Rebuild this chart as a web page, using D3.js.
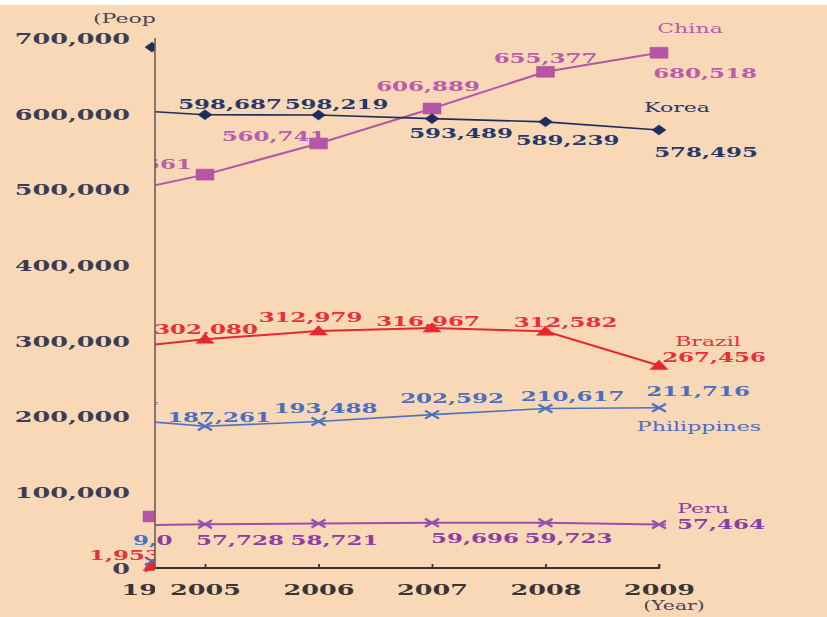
<!DOCTYPE html>
<html>
<head>
<meta charset="utf-8">
<script src="https://cdn.jsdelivr.net/npm/d3@7"></script>
<style>
  html, body { margin: 0; padding: 0; background: #F9D8B7; }
  svg { display: block; }
</style>
</head>
<body>
<script>
// ---- data -------------------------------------------------------------
const years = [2004, 2005, 2006, 2007, 2008, 2009];
const korea = [607419, 598687, 598219, 593489, 589239, 578495];
const china = [487570, 519561, 560741, 606889, 655377, 680518];
const brazil = [286557, 302080, 312979, 316967, 312582, 267456];
const philippines = [199394, 187261, 193488, 202592, 210617, 211716];
const peru = [55750, 57728, 58721, 59696, 59723, 57464];

// earlier reference year shown at the left edge of the axis
const earlyYear = 1990;
const earlyKorea = 687940;
const earlyChina = 68000;
const earlyBrazil = 1953;
const earlyPhilippines = 9092;
const earlyPeru = 480;

const yTicks = [0, 100000, 200000, 300000, 400000, 500000, 600000, 700000];
const seriesNames = ["Korea", "China", "Brazil", "Philippines", "Peru"];

// ---- layout -----------------------------------------------------------
const W = 827, H = 617;
const SX = 1.7;              // horizontal stretch of all lettering
const axisX = 155;           // vertical axis / split between the two panels
const fmt = d3.format(",");

const svg = d3.select("body").append("svg").attr("width", W).attr("height", H);
svg.append("rect").attr("width", W).attr("height", H).attr("fill", "#F9D8B7");
svg.append("rect").attr("width", W).attr("height", 5).attr("fill", "#ffffff");

const defs = svg.append("defs");
defs.append("clipPath").attr("id", "clipRight")
  .append("rect").attr("x", axisX).attr("y", 0).attr("width", W - axisX).attr("height", H);
defs.append("clipPath").attr("id", "clipLeft")
  .append("rect").attr("x", 0).attr("y", 0).attr("width", axisX).attr("height", H);

const y = d3.scaleLinear().domain([0, 700000]).range([568, 38]);
const x = d3.scaleLinear().domain([2005, 2009]).range([205, 659]);
const xEarly = 152;

function stext(g, px, py, txt, o) {
  return g.append("text")
    .attr("transform", `translate(${px},${py}) scale(${SX},1)`)
    .attr("text-anchor", o.anchor || "middle")
    .attr("dy", "0.36em")
    .attr("font-family", "'DejaVu Serif', serif")
    .attr("font-weight", o.weight || "bold")
    .attr("font-size", o.size || 13.5)
    .attr("fill", o.color)
    .text(txt);
}

const colors = {
  Korea:       { line: "#1f2d5c", text: "#27386a", width: 1.6 },
  China:       { line: "#b455a6", text: "#b95cab", width: 2 },
  Brazil:      { line: "#e8262c", text: "#e8303a", width: 2 },
  Philippines: { line: "#4b72c2", text: "#4a6fbf", width: 1.6 },
  Peru:        { line: "#9a4fae", text: "#8e3ca2", width: 2 }
};

const markers = {
  Korea: "M0,-5L7,0L0,5L-7,0Z",
  China: "M-9,-5.5H9V5.5H-9Z",
  Brazil: "M0,-5.5L9,4L-9,4Z",
  Philippines: "M-7,-4L7,4M-7,4L7,-4",
  Peru: "M-7,-4L7,4M-7,4L7,-4M-7,0H7"
};

const seriesData = {
  Korea: korea, China: china, Brazil: brazil, Philippines: philippines, Peru: peru
};

// value-label placement relative to each point (text centre); null = no label
const labelOffsets = {
  Korea:       [null, [25, -11], [18, -11], [29, 14], [22, 18], [47, 22]],
  China:       [null, [-65, -10], [-45, -7], [-4, -22], [0, -14], [46, 20]],
  Brazil:      [null, [1, -10], [-8, -14], [-4, -7], [20, -9], [55, -8]],
  Philippines: [[15, -17], [14, -9], [7, -13], [20, -16], [27, -12], [39, -17]],
  Peru:        [[37, 14], [35, 16], [16, 17], [43, 15], [23, 15], [62, 0]]
};
const nameOffsets = {
  Korea: [18, -23], China: [31, -24], Brazil: [49, -24], Philippines: [40, 19], Peru: [44, -16]
};

// ---- right panel: recent years ----------------------------------------
const right = svg.append("g").attr("clip-path", "url(#clipRight)");

// x axis
const xAxis = right.append("g")
  .attr("transform", `translate(0,${y(0)})`)
  .call(d3.axisBottom(x).tickValues(years).tickFormat(d3.format("d"))
    .tickSizeInner(-4).tickSizeOuter(0));
xAxis.select(".domain").attr("stroke", "#3a312c").attr("stroke-width", 1.8)
  .attr("d", `M${x(2004)},0H${x(2009)}V-4`);
xAxis.selectAll(".tick line").attr("stroke", "#3a312c").attr("stroke-width", 1.8);
xAxis.selectAll(".tick text")
  .attr("y", null).attr("dy", "0.36em")
  .attr("transform", `translate(0,22) scale(${SX},1)`)
  .attr("font-family", "'DejaVu Serif', serif").attr("font-weight", "bold")
  .attr("font-size", 15).attr("fill", "#3a3535");
stext(right, 674, 606, "(Year)", { size: 12, weight: "normal", color: "#4a4550" });

const order = ["Peru", "Philippines", "Brazil", "China", "Korea"];
order.forEach(name => {
  const vals = seriesData[name];
  const c = colors[name];
  const pts = years.map((yr, i) => [x(yr), y(vals[i])]);
  right.append("path").attr("d", d3.line()(pts))
    .attr("fill", "none").attr("stroke", c.line).attr("stroke-width", c.width);
  const isStroke = name === "Philippines" || name === "Peru";
  pts.forEach(p => {
    right.append("path").attr("d", markers[name])
      .attr("transform", `translate(${p[0]},${p[1]})`)
      .attr("fill", isStroke ? "none" : c.line)
      .attr("stroke", c.line).attr("stroke-width", isStroke ? 2.2 : 0.5);
  });
});
order.forEach(name => {
  const vals = seriesData[name];
  const c = colors[name];
  years.forEach((yr, i) => {
    const o = labelOffsets[name][i];
    if (!o) return;
    stext(right, x(yr) + o[0], y(vals[i]) + o[1], fmt(vals[i]), { color: c.text });
  });
  const n = nameOffsets[name];
  stext(right, x(2009) + n[0], y(vals[vals.length - 1]) + n[1], name,
    { size: 13, weight: "normal", color: c.text });
});

// ---- left panel: value axis and earliest year --------------------------
const left = svg.append("g").attr("clip-path", "url(#clipLeft)");

const yAxis = left.append("g")
  .attr("transform", `translate(${axisX},0)`)
  .call(d3.axisLeft(y).tickValues(yTicks).tickFormat(fmt).tickSize(0));
yAxis.select(".domain").remove();
yAxis.selectAll(".tick text")
  .attr("x", null).attr("dy", "0.36em")
  .attr("transform", `translate(-25,0) scale(${SX},1)`)
  .attr("font-family", "'DejaVu Serif', serif").attr("font-weight", "bold")
  .attr("font-size", 15).attr("fill", "#3b3d57");

stext(left, 93, 18, "(People)", { anchor: "start", size: 13, weight: "normal", color: "#4a4550" });
stext(left, 157, 590, String(earlyYear), { size: 15, color: "#3a3535" });

const early = [
  ["Peru", earlyPeru], ["Philippines", earlyPhilippines], ["Brazil", earlyBrazil],
  ["China", earlyChina], ["Korea", earlyKorea]
];
early.forEach(([name, v]) => {
  const isStroke = name === "Philippines" || name === "Peru";
  left.append("path").attr("d", markers[name])
    .attr("transform", `translate(${xEarly},${y(v)})`)
    .attr("fill", isStroke ? "none" : colors[name].line)
    .attr("stroke", colors[name].line).attr("stroke-width", isStroke ? 2.2 : 0.5);
});
stext(left, xEarly - 27, y(earlyBrazil) - 11, fmt(earlyBrazil), { color: colors.Brazil.text });
stext(left, xEarly + 17, y(earlyPhilippines) - 21, fmt(earlyPhilippines), { color: colors.Philippines.text });

// value axis line
svg.append("line")
  .attr("x1", axisX).attr("x2", axisX).attr("y1", y(700000)).attr("y2", y(0) + 1)
  .attr("stroke", "#6b5d56").attr("stroke-width", 1.6);
</script>
</body>
</html>
